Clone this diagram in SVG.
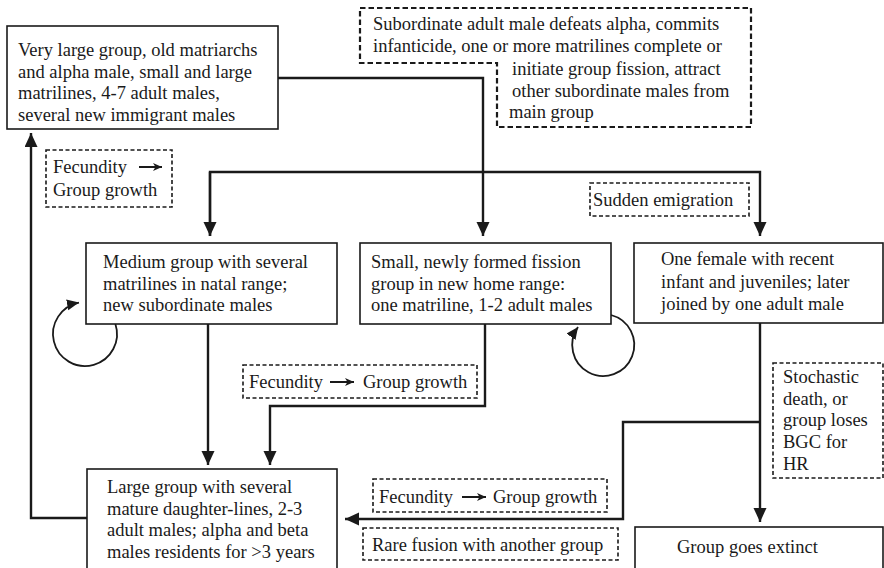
<svg xmlns="http://www.w3.org/2000/svg" width="884" height="568" viewBox="0 0 884 568">
<style>
text{font-family:"Liberation Serif","Times New Roman",serif;font-size:18.5px;fill:#1a1a1a}
.box{fill:#fff;stroke:#1a1a1a;stroke-width:1.6}
.dbox{fill:#fff;stroke:#1a1a1a;stroke-width:1.6;stroke-dasharray:4 2.5}
.dbox2{fill:#fff;stroke:#1a1a1a;stroke-width:2.2;stroke-dasharray:5.5 3}
.conn{fill:none;stroke:#1a1a1a;stroke-width:2.4}
.loop{fill:none;stroke:#1a1a1a;stroke-width:1.8}
.mini{fill:none;stroke:#1a1a1a;stroke-width:2}
</style>
<defs>
<marker id="ah" markerUnits="userSpaceOnUse" markerWidth="15" markerHeight="14" refX="14" refY="6.5" orient="auto">
<path d="M0,0 L14,6.5 L0,13 z" fill="#1a1a1a"/>
</marker>
<marker id="ahs" markerUnits="userSpaceOnUse" markerWidth="13" markerHeight="12" refX="12" refY="5.5" orient="auto">
<path d="M0,0 L12,5.5 L0,11 z" fill="#1a1a1a"/>
</marker>
<marker id="ahm" markerUnits="userSpaceOnUse" markerWidth="10" markerHeight="10" refX="9" refY="4" orient="auto">
<path d="M0,0 L9,4 L0,8 L2.5,4 z" fill="#1a1a1a"/>
</marker>
</defs>

<g id="connectors">
<path class="conn" d="M278,78 H483 V236" marker-end="url(#ah)"/>
<path class="conn" d="M210,236 V172 H760 V236" marker-end="url(#ah)"/>
<path class="conn" d="M210,172 V236" marker-end="url(#ah)"/>
<path class="conn" d="M208,324 V465" marker-end="url(#ah)"/>
<path class="conn" d="M485,324 V406 H270 V465" marker-end="url(#ah)"/>
<path class="conn" d="M760,323 V522" marker-end="url(#ah)"/>
<path class="conn" d="M760,422 H623 V519 H345" marker-end="url(#ah)"/>
<path class="conn" d="M87,518 H31 V133" marker-end="url(#ah)"/>
<path class="loop" d="M115.4,324 A32,32 0 1 1 79,302.6" marker-end="url(#ahs)"/>
<path class="loop" d="M611,315 A31,31 0 1 1 578,327" marker-end="url(#ahs)"/>
</g>

<g id="n-very-large">
<rect class="box" x="7" y="26" width="271" height="103"/>
<text x="18" y="56">Very large group, old matriarchs</text>
<text x="18" y="77.7">and alpha male, small and large</text>
<text x="18" y="99.4">matrilines, 4-7 adult males,</text>
<text x="18" y="121">several new immigrant males</text>
</g>

<g id="n-subordinate">
<path class="dbox2" d="M360,8 H751 V127 H497 V63 H360 Z"/>
<text x="373" y="30">Subordinate adult male defeats alpha, commits</text>
<text x="373" y="52">infanticide, one or more matrilines complete or</text>
<text x="512" y="75">initiate group fission, attract</text>
<text x="512" y="97">other subordinate males from</text>
<text x="509" y="118">main group</text>
</g>

<g id="n-fec1">
<rect class="dbox" x="46" y="150" width="126" height="57"/>
<text x="53" y="173">Fecundity</text>
<path class="mini" d="M139,167 H162" marker-end="url(#ahm)"/>
<text x="53" y="196">Group growth</text>
</g>

<g id="n-sudden">
<rect class="dbox" x="590" y="183" width="159" height="33"/>
<text x="593" y="206">Sudden emigration</text>
</g>

<g id="n-medium">
<rect class="box" x="86" y="243" width="251" height="81"/>
<text x="103" y="268">Medium group with several</text>
<text x="103" y="289.5">matrilines in natal range;</text>
<text x="103" y="311">new subordinate males</text>
</g>

<g id="n-small">
<rect class="box" x="360" y="243" width="251" height="81"/>
<text x="371" y="268">Small, newly formed fission</text>
<text x="371" y="289.5">group in new home range:</text>
<text x="371" y="311">one matriline, 1-2 adult males</text>
</g>

<g id="n-female">
<rect class="box" x="634" y="243" width="249" height="80"/>
<text x="661" y="265">One female with recent</text>
<text x="661" y="287.5">infant and juveniles; later</text>
<text x="661" y="310">joined by one adult male</text>
</g>

<g id="n-fec2">
<rect class="dbox" x="243" y="365" width="234" height="33"/>
<text x="249" y="387.5">Fecundity</text>
<path class="mini" d="M330,382 H354" marker-end="url(#ahm)"/>
<text x="363" y="387.5">Group growth</text>
</g>

<g id="n-stochastic">
<rect class="dbox" x="773" y="363" width="110" height="115"/>
<text x="783" y="383">Stochastic</text>
<text x="783" y="404.7">death, or</text>
<text x="783" y="426.4">group loses</text>
<text x="783" y="448">BGC for</text>
<text x="783" y="469.8">HR</text>
</g>

<g id="n-large">
<rect class="box" x="87" y="469" width="250" height="102"/>
<text x="107" y="493">Large group with several</text>
<text x="107" y="514.5">mature daughter-lines, 2-3</text>
<text x="107" y="536">adult males; alpha and beta</text>
<text x="107" y="557.5">males residents for &gt;3 years</text>
</g>

<g id="n-fec3">
<rect class="dbox" x="373" y="479" width="234" height="33"/>
<text x="379" y="502.5">Fecundity</text>
<path class="mini" d="M462,497 H486" marker-end="url(#ahm)"/>
<text x="493" y="502.5">Group growth</text>
</g>

<g id="n-rare">
<rect class="dbox" x="363" y="528" width="255" height="32"/>
<text x="372" y="550.5">Rare fusion with another group</text>
</g>

<g id="n-extinct">
<rect class="box" x="635" y="527" width="248" height="44"/>
<text x="677" y="553">Group goes extinct</text>
</g>
</svg>
